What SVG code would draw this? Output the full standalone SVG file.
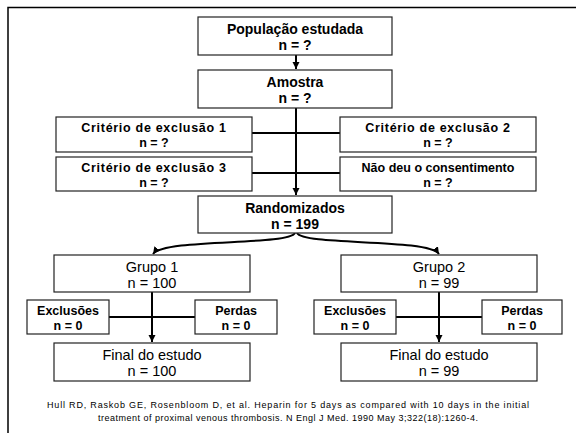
<svg xmlns="http://www.w3.org/2000/svg" width="576" height="433" viewBox="0 0 576 433">
<defs>
<marker id="ah" markerWidth="8" markerHeight="8" refX="7" refY="4" orient="auto" markerUnits="userSpaceOnUse">
<path d="M0,0.5 L7,4 L0,7.5 Z" fill="#000"/>
</marker>
<style>
.box{fill:#fff;stroke:#222;stroke-width:1.2}
.b{font-family:"Liberation Sans",Arial,sans-serif;font-weight:bold;text-anchor:middle;fill:#000}
.r{font-family:"Liberation Sans",Arial,sans-serif;text-anchor:middle;fill:#000}
.t13{font-size:14px}
.t11{font-size:12.5px}
.t13r{font-size:14.5px}
.ls{letter-spacing:0.7px}
.con{fill:none;stroke:#000;stroke-width:2}
.cite{font-family:"Liberation Sans",Arial,sans-serif;font-size:9px;text-anchor:middle;fill:#000}
</style>
</defs>
<rect width="576" height="433" fill="#fff"/>
<path d="M8,433 V7.5 H576" fill="none" stroke="#000" stroke-width="1.5"/>

<g id="connectors">
<line class="con" x1="296" y1="55" x2="296" y2="69" marker-end="url(#ah)"/>
<line class="con" x1="296" y1="108" x2="296" y2="195" marker-end="url(#ah)"/>
<line class="con" x1="252" y1="133" x2="340" y2="133"/>
<line class="con" x1="252" y1="173" x2="340" y2="173"/>
<path class="con" d="M295,233 C288,246 165,238 153,254" marker-end="url(#ah)"/>
<path class="con" d="M297,233 C304,246 428,238 439,254" marker-end="url(#ah)"/>
<line class="con" x1="152" y1="292" x2="152" y2="342" marker-end="url(#ah)"/>
<line class="con" x1="109" y1="317" x2="195" y2="317"/>
<line class="con" x1="439" y1="292" x2="439" y2="342" marker-end="url(#ah)"/>
<line class="con" x1="396" y1="317" x2="482" y2="317"/>
</g>

<g id="populacao">
<rect class="box" x="198" y="17" width="194" height="38"/>
<text class="b t13" x="295" y="34">População estudada</text>
<text class="b t13" x="295" y="50">n = ?</text>
</g>
<g id="amostra">
<rect class="box" x="198" y="70" width="194" height="38"/>
<text class="b t13" x="295" y="87">Amostra</text>
<text class="b t13" x="295" y="103">n = ?</text>
</g>
<g id="criterio1">
<rect class="box" x="56" y="117" width="196" height="35"/>
<text class="b t11 ls" x="154" y="132">Critério de exclusão 1</text>
<text class="b t11" x="154" y="147">n = ?</text>
</g>
<g id="criterio2">
<rect class="box" x="340" y="117" width="196" height="35"/>
<text class="b t11 ls" x="438" y="132">Critério de exclusão 2</text>
<text class="b t11" x="438" y="147">n = ?</text>
</g>
<g id="criterio3">
<rect class="box" x="56" y="157" width="196" height="34"/>
<text class="b t11 ls" x="154" y="172">Critério de exclusão 3</text>
<text class="b t11" x="154" y="187">n = ?</text>
</g>
<g id="consentimento">
<rect class="box" x="340" y="157" width="196" height="34"/>
<text class="b t11" x="438" y="172">Não deu o consentimento</text>
<text class="b t11" x="438" y="187">n = ?</text>
</g>
<g id="randomizados">
<rect class="box" x="198" y="196" width="194" height="37"/>
<text class="b t13" x="295" y="213">Randomizados</text>
<text class="b t13" x="295" y="229">n = 199</text>
</g>
<g id="grupo1">
<rect class="box" x="54" y="255" width="196" height="37"/>
<text class="r t13r" x="152" y="272">Grupo 1</text>
<text class="r t13r" x="152" y="288">n = 100</text>
</g>
<g id="grupo2">
<rect class="box" x="341" y="255" width="196" height="37"/>
<text class="r t13r" x="439" y="272">Grupo 2</text>
<text class="r t13r" x="439" y="288">n = 99</text>
</g>
<g id="exclusoes1">
<rect class="box" x="27" y="300" width="82" height="34"/>
<text class="b t11" x="68" y="315">Exclusões</text>
<text class="b t11" x="68" y="330">n = 0</text>
</g>
<g id="perdas1">
<rect class="box" x="195" y="300" width="82" height="34"/>
<text class="b t11" x="236" y="315">Perdas</text>
<text class="b t11" x="236" y="330">n = 0</text>
</g>
<g id="exclusoes2">
<rect class="box" x="314" y="300" width="82" height="34"/>
<text class="b t11" x="355" y="315">Exclusões</text>
<text class="b t11" x="355" y="330">n = 0</text>
</g>
<g id="perdas2">
<rect class="box" x="482" y="300" width="80" height="34"/>
<text class="b t11" x="522" y="315">Perdas</text>
<text class="b t11" x="522" y="330">n = 0</text>
</g>
<g id="final1">
<rect class="box" x="54" y="343" width="196" height="38"/>
<text class="r t13r" x="152" y="360">Final do estudo</text>
<text class="r t13r" x="152" y="376">n = 100</text>
</g>
<g id="final2">
<rect class="box" x="341" y="343" width="196" height="38"/>
<text class="r t13r" x="439" y="360">Final do estudo</text>
<text class="r t13r" x="439" y="376">n = 99</text>
</g>
<g id="citation">
<text class="cite" x="288" y="408" textLength="482" lengthAdjust="spacing">Hull RD, Raskob GE, Rosenbloom D, et al. Heparin for 5 days as compared with 10 days in the initial</text>
<text class="cite" x="288" y="421" textLength="380" lengthAdjust="spacing">treatment of proximal venous thrombosis. N Engl J Med. 1990 May 3;322(18):1260-4.</text>
</g>
</svg>
